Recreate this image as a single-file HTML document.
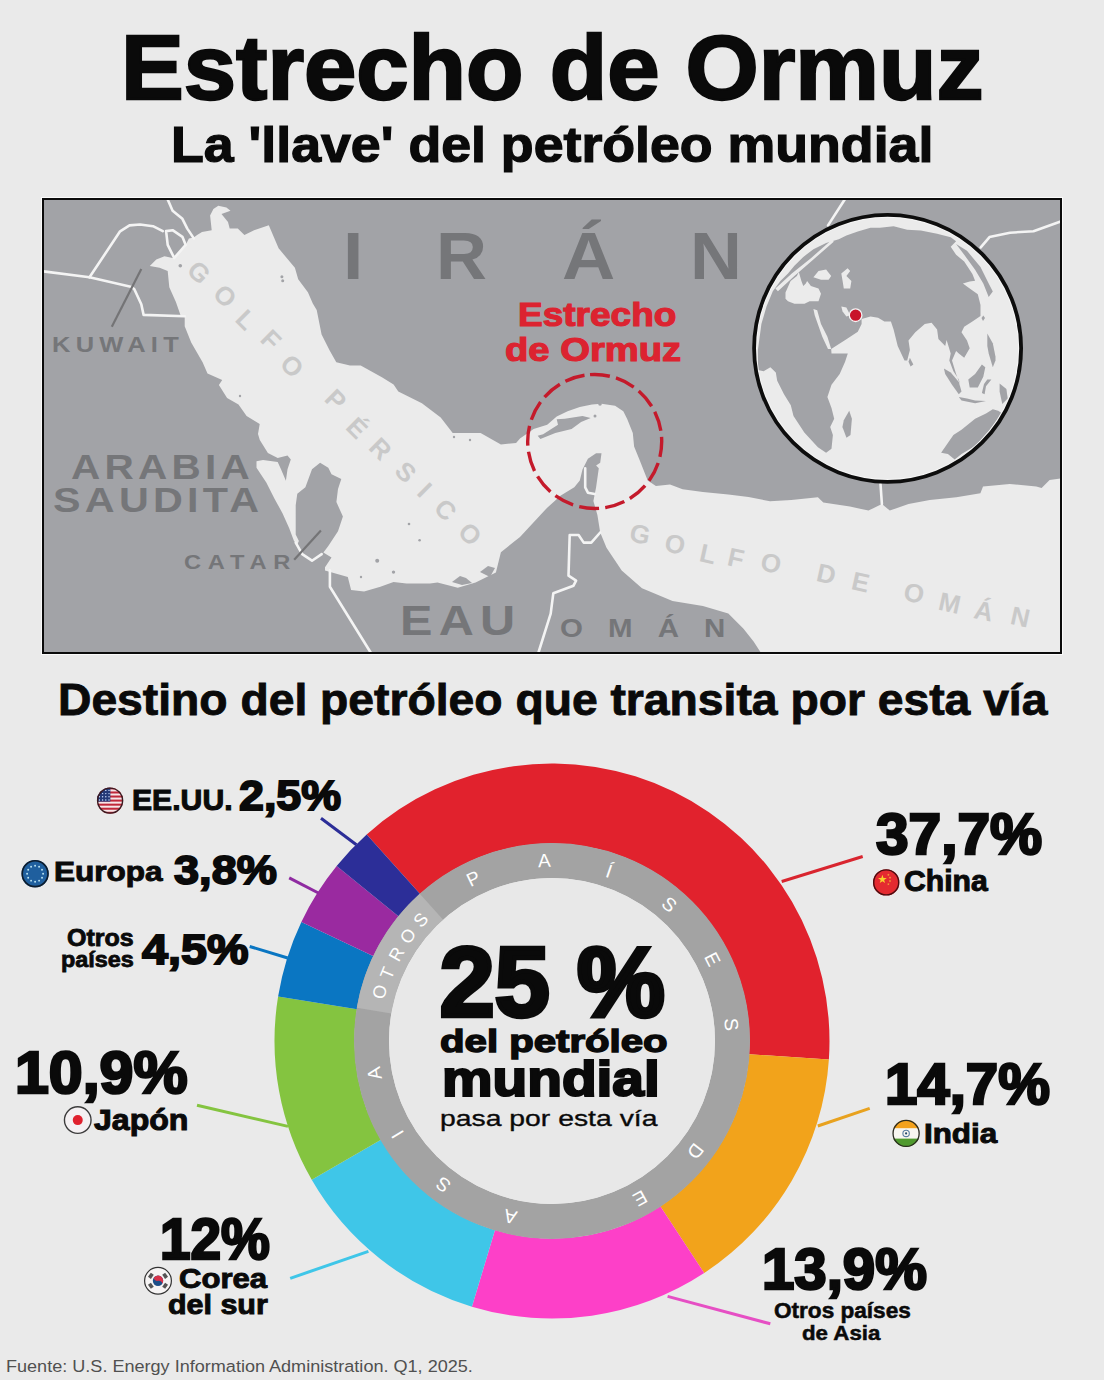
<!DOCTYPE html>
<html><head><meta charset="utf-8"><title>Estrecho de Ormuz</title>
<style>
html,body{margin:0;padding:0;}
body{width:1104px;height:1380px;position:relative;overflow:hidden;background:#eaeaea;font-family:"Liberation Sans",sans-serif;}
.t{position:absolute;white-space:pre;line-height:1;transform-origin:0 0;}
svg{position:absolute;left:0;top:0;}
</style></head><body>
<svg width='1104' height='1380' viewBox='0 0 1104 1380'><rect x='42' y='198' width='1020' height='456' fill='#a2a3a7'/><path d='M210.1,215.6 L213.4,209.0 L218.3,205.8 L226.4,207.4 L230.5,210.7 L221.5,213.9 L228.0,222.1 L229.7,228.6 L237.8,228.6 L244.4,235.1 L254.1,230.2 L268.8,225.3 L273.7,236.8 L278.6,248.2 L286.7,258.0 L294.9,267.7 L298.2,279.2 L307.9,292.2 L312.8,303.6 L316.7,310.0 L321.6,334.5 L329.8,350.8 L336.3,362.2 L350.0,365.4 L360.7,365.6 L381.9,377.3 L393.6,384.4 L398.3,391.5 L421.9,403.3 L440.7,417.4 L452.7,433.0 L480.6,433.0 L500.9,444.4 L516.1,443.1 L520.0,438.4 L533.6,428.9 L547.2,424.8 L556.7,416.6 L567.6,411.2 L579.8,407.1 L592.0,404.4 L601.5,403.7 L615.1,405.8 L623.3,411.2 L627.3,419.3 L632.8,432.9 L634.1,446.5 L639.6,460.1 L647.7,480.5 L655.9,485.9 L670.0,484.6 L682.6,489.3 L702.9,491.9 L728.3,494.4 L748.5,497.0 L770.0,501.3 L791.3,499.9 L817.9,497.3 L823.3,502.6 L849.9,506.6 L868.5,510.6 L881.9,503.9 L889.8,510.6 L908.5,503.9 L929.8,499.9 L956.4,497.3 L980.4,493.3 L983.0,486.6 L1009.7,483.9 L1036.3,486.6 L1041.6,487.9 L1049.6,480.0 L1064.0,478.0 L1064.0,656.0 L763.0,656.0 L753.6,641.5 L743.5,628.8 L728.3,613.6 L702.9,606.0 L672.5,600.9 L642.0,588.3 L621.7,570.5 L606.5,547.7 L600.2,532.5 L597.4,515.0 L593.4,500.9 L596.1,487.3 L598.8,468.3 L596.1,465.5 L600.2,462.8 L601.5,453.3 L596.1,453.3 L587.9,458.8 L582.5,469.6 L579.8,480.5 L574.3,487.3 L560.8,495.4 L547.2,507.7 L540.4,515.0 L520.0,537.0 L513.6,542.0 L500.9,552.2 L495.9,572.5 L475.6,582.6 L457.8,587.7 L437.5,582.6 L430.0,583.5 L406.5,583.5 L393.5,581.9 L380.4,586.7 L364.1,591.6 L351.1,590.0 L347.8,577.0 L336.4,573.7 L325.0,570.4 L325.0,567.2 L331.5,557.4 L323.4,552.5 L328.3,546.0 L338.0,531.3 L342.9,516.6 L336.4,502.0 L338.0,488.9 L341.3,479.1 L331.5,474.2 L328.3,467.7 L320.1,462.8 L312.0,469.3 L305.4,487.3 L297.3,493.8 L295.7,505.2 L295.7,534.6 L298.9,541.1 L297.3,544.4 L294.0,541.1 L289.1,528.0 L282.6,513.4 L274.5,498.7 L266.3,482.4 L256.5,467.7 L256.5,461.2 L263.0,460.0 L277.7,462.0 L281.0,469.3 L285.9,480.8 L287.5,469.3 L290.8,459.6 L287.5,455.5 L277.7,457.9 L267.9,453.0 L259.8,440.0 L258.0,433.9 L259.7,424.1 L246.6,416.0 L238.5,404.6 L227.1,398.0 L218.9,385.0 L222.2,380.1 L207.5,373.6 L202.6,362.2 L191.2,342.6 L184.7,326.3 L184.7,316.0 L180.8,316.0 L175.9,302.0 L169.3,287.3 L167.7,271.0 L159.6,267.7 L149.8,266.1 L156.3,259.6 L164.5,256.3 L172.6,258.0 L184.0,248.2 L188.9,238.4 L193.8,237.6 L197.1,235.1 L202.0,231.9 L211.7,230.2Z' fill='#ebebeb'/><path d='M537.7,435.7 L540.4,439.0 L555.3,432.9 L571.6,428.9 L581.1,422.1 L590.7,418.0 L582.5,416.0 L564.8,418.7 L556.7,419.3 L558.0,424.8 L543.1,434.3Z' fill='#a2a3a7'/><circle cx='180.3' cy='265.7' r='1.8' fill='#a2a3a7'/><circle cx='281.9' cy='276.7' r='1.5' fill='#a2a3a7'/><circle cx='282.7' cy='280.8' r='1.5' fill='#a2a3a7'/><circle cx='377.2' cy='560.7' r='2' fill='#a2a3a7'/><circle cx='393.5' cy='572.1' r='1.7' fill='#a2a3a7'/><circle cx='409' cy='524' r='1.3' fill='#a2a3a7'/><circle cx='419.6' cy='540.3' r='1.3' fill='#a2a3a7'/><circle cx='361' cy='577' r='1.2' fill='#a2a3a7'/><circle cx='595' cy='416' r='1.5' fill='#a2a3a7'/><circle cx='600' cy='404' r='1.8' fill='#a2a3a7'/><circle cx='240' cy='396' r='1.2' fill='#a2a3a7'/><circle cx='454' cy='437' r='1.2' fill='#a2a3a7'/><circle cx='470' cy='440' r='1.2' fill='#a2a3a7'/><path d='M452,582 L460,576 L466,578 L472,583 L462,585Z' fill='#a2a3a7'/><path d='M480,572 L488,566 L495,568 L490,577Z' fill='#a2a3a7'/><path d='M43.5,271.4 L89.5,277.3 L130.7,286.7 L134.2,289.0 L141.3,304.3 L143.6,314.9 L184.7,316.3' fill='none' stroke='#f4f4f4' stroke-width='2.6' stroke-linejoin='round' stroke-linecap='round'/><path d='M89.5,277.3 L120.1,231.3 L129.5,225.4 L140.0,224.5 L153.0,226.2 L162.8,231.1' fill='none' stroke='#f4f4f4' stroke-width='2.6' stroke-linejoin='round' stroke-linecap='round'/><path d='M167.7,199.5 L172.6,210.7 L182.4,218.8 L187.3,228.6 L193.8,238.4' fill='none' stroke='#f4f4f4' stroke-width='2.6' stroke-linejoin='round' stroke-linecap='round'/><path d='M166.1,231.1 L172.6,230.2 L182.4,236.8 L185.7,244.9 L174.2,258.0 L167.7,244.9 L166.1,231.1' fill='none' stroke='#f4f4f4' stroke-width='2.6' stroke-linejoin='round' stroke-linecap='round'/><path d='M295.7,542.7 L302.2,554.1 L312.0,560.7 L321.7,554.1' fill='none' stroke='#f4f4f4' stroke-width='2.6' stroke-linejoin='round' stroke-linecap='round'/><path d='M329.9,570.4 L329.9,586.7 L371.6,654.0' fill='none' stroke='#f4f4f4' stroke-width='2.6' stroke-linejoin='round' stroke-linecap='round'/><path d='M600.2,532.5 L591.3,542.6 L583.7,542.6 L578.6,535.0 L569.7,535.0 L568.5,575.6 L576.1,580.6 L573.5,585.7 L553.3,593.3 L550.7,613.6 L538.0,654.0' fill='none' stroke='#f4f4f4' stroke-width='2.6' stroke-linejoin='round' stroke-linecap='round'/><path d='M585.2,468.3 L585.2,487.3 L587.9,492.7 L594.7,494.1' fill='none' stroke='#f4f4f4' stroke-width='2.6' stroke-linejoin='round' stroke-linecap='round'/><path d='M880.5,484.0 L881.9,504.0' fill='none' stroke='#f4f4f4' stroke-width='2.6' stroke-linejoin='round' stroke-linecap='round'/><path d='M828.0,225.4 L845.7,198.0' fill='none' stroke='#f4f4f4' stroke-width='2.6' stroke-linejoin='round' stroke-linecap='round'/><path d='M980.7,247.4 L989.5,237.1 L1010.0,232.7 L1033.5,231.2 L1062.0,221.0' fill='none' stroke='#f4f4f4' stroke-width='2.6' stroke-linejoin='round' stroke-linecap='round'/><line x1='141.3' y1='269' x2='111.8' y2='326.7' stroke='#747476' stroke-width='2.2'/><line x1='294.2' y1='559.8' x2='320.9' y2='530.6' stroke='#747476' stroke-width='2.2'/><circle cx='594.7' cy='441.5' r='67' fill='none' stroke='#c41a2b' stroke-width='3.4' stroke-dasharray='20 6.31' transform='rotate(-94 594.7 441.5)'/><defs><clipPath id='gc'><circle cx='887.6' cy='348.3' r='133.5'/></clipPath></defs><circle cx='887.6' cy='348.3' r='133.5' fill='#ebebeb'/><g clip-path='url(#gc)'><path d='M758.0,370.0 L757.9,350.0 L761.4,324.1 L766.5,306.4 L772.8,291.2 L780.4,281.0 L788.0,273.4 L794.4,265.8 L803.3,256.9 L813.4,249.3 L826.1,243.0 L838.8,239.2 L846.4,235.4 L857.8,231.6 L870.5,227.8 L880.0,227.7 L893.6,226.3 L907.2,229.7 L920.8,230.4 L937.1,233.8 L950.7,237.2 L956.1,241.3 L950.7,246.7 L956.1,254.8 L964.2,261.6 L972.4,273.9 L975.1,280.7 L969.7,281.5 L962.9,283.4 L968.3,287.4 L977.8,294.2 L980.5,305.1 L980.5,316.0 L972.4,321.4 L964.2,326.8 L961.5,332.3 L967.0,340.4 L969.7,348.2 L964.2,357.7 L958.8,353.6 L956.1,350.9 L952.0,360.4 L956.1,374.0 L960.2,384.8 L958.8,379.4 L953.4,371.3 L949.3,360.4 L950.7,353.6 L946.6,340.0 L945.2,345.9 L938.4,339.1 L937.1,329.6 L931.6,322.8 L924.8,324.1 L915.3,332.3 L908.5,340.4 L909.9,350.0 L907.2,360.4 L904.5,360.4 L897.7,345.9 L893.6,329.6 L890.9,321.4 L884.4,321.6 L878.1,317.8 L870.5,316.5 L861.6,319.1 L861.6,324.1 L857.8,331.7 L846.4,339.3 L831.2,349.0 L831.5,353.6 L847.8,353.6 L845.1,361.7 L839.7,374.0 L831.5,384.8 L827.4,397.1 L831.5,407.9 L834.2,418.8 L830.2,427.0 L832.9,435.1 L831.5,448.7 L826.1,452.8 L817.9,447.3 L804.3,432.4 L793.5,416.1 L790.8,405.2 L784.0,394.3 L777.2,380.8 L775.8,372.6 L770.4,367.2 L763.6,371.3Z' fill='#a2a3a7'/><path d='M785.5,292.4 L790.6,281.0 L796.9,275.9 L798.8,272.1 L801.4,281.0 L803.3,286.1 L805.8,283.5 L807.1,281.0 L810.9,286.1 L818.5,288.6 L821.0,293.7 L818.5,301.3 L809.6,301.3 L804.5,303.8 L794.4,303.8 L788.0,301.3 L785.5,298.8Z' fill='#ebebeb'/><path d='M813.4,277.2 L818.5,270.9 L826.1,269.6 L831.2,275.9 L828.6,279.7 L821.0,279.7Z' fill='#ebebeb'/><path d='M841.3,273.4 L847.6,268.3 L850.2,270.9 L846.4,275.9 L851.4,281.0 L850.2,288.6 L843.8,288.6 L842.6,281.0Z' fill='#ebebeb'/><path d='M813.4,308.9 L817.2,310.2 L821.0,324.1 L827.4,336.8 L831.2,349.0 L828.0,349.0 L822.3,336.8 L814.7,315.3Z' fill='#ebebeb'/><path d='M841.3,306.4 L846.4,307.6 L850.2,315.3 L846.4,316.5 L842.6,311.4Z' fill='#ebebeb'/><path d='M775.4,288.6 L791.8,273.4 L810.9,258.2 L832.4,239.2 L833.7,241.7 L813.4,259.5 L794.4,275.9 L777.9,291.2Z' fill='#ebebeb'/><path d='M956.1,244.0 L967.0,250.8 L980.5,267.1 L988.7,283.4 L992.8,291.5 L988.7,297.0 L983.3,283.4 L975.1,269.8 L964.2,254.8Z' fill='#a2a3a7'/><path d='M849.2,410.7 L851.9,418.8 L850.5,435.1 L846.5,437.8 L842.4,427.0 L843.8,420.2Z' fill='#a2a3a7'/><path d='M909.9,357.7 L913.3,364.5 L910.6,366.5 L908.5,361.7Z' fill='#a2a3a7'/><path d='M943.9,368.5 L950.7,372.6 L958.8,382.1 L961.5,391.6 L958.8,394.3 L952.0,384.8 L945.2,374.0Z' fill='#a2a3a7'/><path d='M958.8,397.1 L967.0,398.4 L975.1,400.5 L986.0,401.1 L975.1,403.2 L961.5,400.5Z' fill='#a2a3a7'/><path d='M968.3,379.4 L975.1,374.0 L981.9,364.5 L985.3,367.2 L983.3,376.7 L977.8,387.6 L969.7,387.6Z' fill='#a2a3a7'/><path d='M987.3,379.4 L991.4,379.4 L986.0,386.2 L984.6,394.3 L981.9,393.0 L984.0,384.0Z' fill='#a2a3a7'/><path d='M987.3,333.6 L992.8,343.2 L995.5,356.7 L995.5,360.4 L992.8,367.2 L988.7,353.6 L987.3,345.9Z' fill='#a2a3a7'/><path d='M999.6,383.5 L1006.4,388.9 L1007.7,398.4 L1002.3,403.9 L999.6,391.6Z' fill='#a2a3a7'/><path d='M983.3,315.5 L985.0,318.0 L983.0,321.0 L981.5,318.0Z' fill='#a2a3a7'/><path d='M941.1,452.8 L953.4,435.1 L961.5,429.7 L975.1,418.8 L986.0,413.4 L992.8,409.3 L998.2,410.7 L1002.3,413.4 L999.6,416.1 L991.4,428.3 L975.1,446.0 L961.5,454.1 L954.7,459.6 L947.9,454.0Z' fill='#a2a3a7'/></g><circle cx='887.6' cy='348.3' r='131.2' fill='none' stroke='#f6f6f6' stroke-width='1.2'/><circle cx='887.6' cy='348.3' r='133.5' fill='none' stroke='#0d0d0d' stroke-width='3.8'/><circle cx='855.6' cy='315.2' r='6.3' fill='#c8142a' stroke='#f4f4f4' stroke-width='1.3'/><rect x='41.5' y='197.5' width='1021' height='457' fill='none' stroke='#fbfbfb' stroke-width='1'/><rect x='43' y='199' width='1018' height='454' fill='none' stroke='#0b0b0b' stroke-width='2'/></svg><div class='t' style='left:342.9px;top:223.4px;font-size:66.52px;font-weight:700;color:#757679;transform:scaleX(1.0989);'>I</div><div class='t' style='left:436.1px;top:223.4px;font-size:66.52px;font-weight:700;color:#757679;transform:scaleX(1.0606);'>R</div><div class='t' style='left:561.8px;top:223.4px;font-size:66.52px;font-weight:700;color:#757679;transform:scaleX(1.1084);'>Á</div><div class='t' style='left:689.6px;top:223.4px;font-size:66.52px;font-weight:700;color:#757679;transform:scaleX(1.0803);'>N</div><div class='t' style='left:52.4px;top:333.9px;font-size:22.17px;font-weight:700;color:#757679;letter-spacing:0.2056em;transform:scaleX(1.1507);'>KUWAIT</div><div class='t' style='left:70.8px;top:448.6px;font-size:35.22px;font-weight:700;color:#757679;letter-spacing:0.1051em;transform:scaleX(1.1501);'>ARABIA</div><div class='t' style='left:52.9px;top:481.5px;font-size:35.94px;font-weight:700;color:#757679;letter-spacing:0.1034em;transform:scaleX(1.1490);'>SAUDITA</div><div class='t' style='left:183.9px;top:552.2px;font-size:20.58px;font-weight:700;color:#757679;letter-spacing:0.2858em;transform:scaleX(1.1495);'>CATAR</div><div class='t' style='left:400.1px;top:600.1px;font-size:42.32px;font-weight:700;color:#757679;letter-spacing:0.1274em;transform:scaleX(1.1499);'>EAU</div><div class='t' style='left:559.7px;top:616.0px;font-size:25.65px;font-weight:700;color:#757679;letter-spacing:0.8522em;transform:scaleX(1.1493);'>OMÁN</div><div class='t' style='left:517.7px;top:297.3px;font-size:34.07px;font-weight:700;color:#dc2330;-webkit-text-stroke:0.035em #dc2330;transform:scaleX(1.0862);'>Estrecho</div><div class='t' style='left:504.5px;top:334.0px;font-size:32.50px;font-weight:700;color:#dc2330;-webkit-text-stroke:0.035em #dc2330;transform:scaleX(1.1756);'>de Ormuz</div><div class='t' style='left:189.2px;top:259.0px;font-size:26.0px;font-weight:700;color:#c9c9c9;transform-origin:9.8px 13.0px;transform:rotate(45.0deg)'>G</div><div class='t' style='left:214.9px;top:283.0px;font-size:26.0px;font-weight:700;color:#c9c9c9;transform-origin:10.1px 13.0px;transform:rotate(45.0deg)'>O</div><div class='t' style='left:237.6px;top:307.0px;font-size:26.0px;font-weight:700;color:#c9c9c9;transform-origin:8.4px 13.0px;transform:rotate(45.0deg)'>L</div><div class='t' style='left:263.1px;top:326.8px;font-size:26.0px;font-weight:700;color:#c9c9c9;transform-origin:8.3px 12.9px;transform:rotate(45.0deg)'>F</div><div class='t' style='left:282.4px;top:352.5px;font-size:26.0px;font-weight:700;color:#c9c9c9;transform-origin:10.1px 13.0px;transform:rotate(45.0deg)'>O</div><div class='t' style='left:326.7px;top:387.4px;font-size:26.0px;font-weight:700;color:#c9c9c9;transform-origin:9.1px 12.9px;transform:rotate(45.0deg)'>P</div><div class='t' style='left:349.8px;top:415.5px;font-size:26.0px;font-weight:700;color:#c9c9c9;transform-origin:9.0px 10.4px;transform:rotate(45.0deg)'>É</div><div class='t' style='left:370.6px;top:436.4px;font-size:26.0px;font-weight:700;color:#c9c9c9;transform-origin:9.9px 13.1px;transform:rotate(45.0deg)'>R</div><div class='t' style='left:396.6px;top:458.5px;font-size:26.0px;font-weight:700;color:#c9c9c9;transform-origin:8.6px 13.0px;transform:rotate(45.0deg)'>S</div><div class='t' style='left:421.1px;top:477.0px;font-size:26.0px;font-weight:700;color:#c9c9c9;transform-origin:3.6px 13.0px;transform:rotate(45.0deg)'>I</div><div class='t' style='left:435.6px;top:497.3px;font-size:26.0px;font-weight:700;color:#c9c9c9;transform-origin:9.6px 13.0px;transform:rotate(45.0deg)'>C</div><div class='t' style='left:459.7px;top:521.4px;font-size:26.0px;font-weight:700;color:#c9c9c9;transform-origin:10.1px 13.0px;transform:rotate(45.0deg)'>O</div><div class='t' style='left:629.7px;top:520.7px;font-size:26.0px;font-weight:700;color:#c9c9c9;transform-origin:9.8px 13.0px;transform:rotate(12.3deg)'>G</div><div class='t' style='left:664.9px;top:530.9px;font-size:26.0px;font-weight:700;color:#c9c9c9;transform-origin:10.1px 13.0px;transform:rotate(12.3deg)'>O</div><div class='t' style='left:699.6px;top:541.0px;font-size:26.0px;font-weight:700;color:#c9c9c9;transform-origin:8.4px 13.0px;transform:rotate(12.3deg)'>L</div><div class='t' style='left:727.7px;top:544.9px;font-size:26.0px;font-weight:700;color:#c9c9c9;transform-origin:8.3px 12.9px;transform:rotate(12.3deg)'>F</div><div class='t' style='left:760.5px;top:550.0px;font-size:26.0px;font-weight:700;color:#c9c9c9;transform-origin:10.1px 13.0px;transform:rotate(12.3deg)'>O</div><div class='t' style='left:816.9px;top:560.8px;font-size:26.0px;font-weight:700;color:#c9c9c9;transform-origin:9.7px 13.0px;transform:rotate(12.3deg)'>D</div><div class='t' style='left:851.6px;top:569.4px;font-size:26.0px;font-weight:700;color:#c9c9c9;transform-origin:9.0px 13.0px;transform:rotate(12.3deg)'>E</div><div class='t' style='left:903.7px;top:580.1px;font-size:26.0px;font-weight:700;color:#c9c9c9;transform-origin:10.1px 13.0px;transform:rotate(12.3deg)'>O</div><div class='t' style='left:939.0px;top:590.1px;font-size:26.0px;font-weight:700;color:#c9c9c9;transform-origin:10.8px 13.0px;transform:rotate(12.3deg)'>M</div><div class='t' style='left:975.0px;top:598.0px;font-size:26.0px;font-weight:700;color:#c9c9c9;transform-origin:9.4px 10.5px;transform:rotate(12.3deg)'>Á</div><div class='t' style='left:1011.0px;top:604.0px;font-size:26.0px;font-weight:700;color:#c9c9c9;transform-origin:9.4px 13.0px;transform:rotate(12.3deg)'>N</div><svg width='1104' height='1380' viewBox='0 0 1104 1380'><path d='M366.68,834.45 A277.5,277.5 0 0 1 828.88,1059.49 L749.06,1054.16 A197.5,197.5 0 0 0 420.10,894.00Z' fill='#e1222d'/><path d='M828.88,1059.49 A277.5,277.5 0 0 1 704.19,1273.04 L660.32,1206.15 A197.5,197.5 0 0 0 749.06,1054.16Z' fill='#f2a31b'/><path d='M704.19,1273.04 A277.5,277.5 0 0 1 471.89,1306.68 L494.98,1230.09 A197.5,197.5 0 0 0 660.32,1206.15Z' fill='#fd40c8'/><path d='M471.89,1306.68 A277.5,277.5 0 0 1 311.73,1179.83 L380.99,1139.81 A197.5,197.5 0 0 0 494.98,1230.09Z' fill='#3fc6e8'/><path d='M311.73,1179.83 A277.5,277.5 0 0 1 278.09,996.54 L357.05,1009.36 A197.5,197.5 0 0 0 380.99,1139.81Z' fill='#84c440'/><path d='M278.09,996.54 A277.5,277.5 0 0 1 301.37,921.88 L373.62,956.22 A197.5,197.5 0 0 0 357.05,1009.36Z' fill='#0a76c2'/><path d='M301.37,921.88 A277.5,277.5 0 0 1 336.65,865.99 L398.73,916.44 A197.5,197.5 0 0 0 373.62,956.22Z' fill='#9a2aa0'/><path d='M336.65,865.99 A277.5,277.5 0 0 1 366.68,834.45 L420.10,894.00 A197.5,197.5 0 0 0 398.73,916.44Z' fill='#2c2e98'/><circle cx='552.0' cy='1041.0' r='180.5' fill='none' stroke='#a3a3a3' stroke-width='35.0'/><path d='M356.83,1007.64 A198.0,198.0 0 0 1 419.77,893.63 L443.14,919.68 A163.0,163.0 0 0 0 391.33,1013.54Z' fill='#b5b5b5'/><circle cx='552.0' cy='1041.0' r='163.0' fill='#e8e8e8'/><line x1='321' y1='818.2' x2='356.4' y2='844.8' stroke='#2c2e98' stroke-width='3'/><line x1='289.2' y1='877.8' x2='318.4' y2='893' stroke='#8f2ba1' stroke-width='3'/><line x1='249.7' y1='946.5' x2='287.7' y2='958' stroke='#0a76c2' stroke-width='3'/><line x1='197' y1='1105.2' x2='288' y2='1126.4' stroke='#84c440' stroke-width='3'/><line x1='290.2' y1='1278.3' x2='368.4' y2='1251.4' stroke='#3fc6e8' stroke-width='3'/><line x1='781.7' y1='881.5' x2='862.7' y2='856.5' stroke='#d9252f' stroke-width='3'/><line x1='817.8' y1='1126' x2='869.7' y2='1108.3' stroke='#e8a21f' stroke-width='3'/><line x1='667.6' y1='1296.4' x2='770.3' y2='1323.8' stroke='#e64fc4' stroke-width='3'/></svg><div class='t' style='left:466.8px;top:869.0px;font-size:19.0px;font-weight:400;color:#ffffff;transform-origin:6.6px 9.5px;transform:rotate(-25.8deg)'>P</div><div class='t' style='left:538.1px;top:851.1px;font-size:19.0px;font-weight:400;color:#ffffff;transform-origin:6.4px 9.5px;transform:rotate(-2.4deg)'>A</div><div class='t' style='left:607.2px;top:862.4px;font-size:19.0px;font-weight:400;color:#ffffff;transform-origin:3.3px 7.8px;transform:rotate(18.9deg)'>Í</div><div class='t' style='left:663.1px;top:894.5px;font-size:19.0px;font-weight:400;color:#ffffff;transform-origin:6.3px 9.5px;transform:rotate(40.6deg)'>S</div><div class='t' style='left:706.3px;top:949.8px;font-size:19.0px;font-weight:400;color:#ffffff;transform-origin:6.7px 9.5px;transform:rotate(63.1deg)'>E</div><div class='t' style='left:725.4px;top:1015.1px;font-size:19.0px;font-weight:400;color:#ffffff;transform-origin:6.3px 9.5px;transform:rotate(84.8deg)'>S</div><div class='t' style='left:687.5px;top:1142.1px;font-size:19.0px;font-weight:400;color:#ffffff;transform-origin:7.2px 9.5px;transform:rotate(127.8deg)'>D</div><div class='t' style='left:632.8px;top:1189.4px;font-size:19.0px;font-weight:400;color:#ffffff;transform-origin:6.7px 9.5px;transform:rotate(151.0deg)'>E</div><div class='t' style='left:504.1px;top:1207.1px;font-size:19.0px;font-weight:400;color:#ffffff;transform-origin:6.4px 9.5px;transform:rotate(193.3deg)'>A</div><div class='t' style='left:436.6px;top:1175.3px;font-size:19.0px;font-weight:400;color:#ffffff;transform-origin:6.3px 9.5px;transform:rotate(217.2deg)'>S</div><div class='t' style='left:395.2px;top:1125.3px;font-size:19.0px;font-weight:400;color:#ffffff;transform-origin:2.6px 9.5px;transform:rotate(238.7deg)'>I</div><div class='t' style='left:368.2px;top:1064.3px;font-size:19.0px;font-weight:400;color:#ffffff;transform-origin:6.4px 9.5px;transform:rotate(259.5deg)'>A</div><div class='t' style='left:373.3px;top:983.4px;font-size:18.0px;font-weight:400;color:#ffffff;transform-origin:7.0px 9.0px;transform:rotate(285.8deg)'>O</div><div class='t' style='left:381.6px;top:963.6px;font-size:18.0px;font-weight:400;color:#ffffff;transform-origin:5.5px 9.0px;transform:rotate(292.5deg)'>T</div><div class='t' style='left:389.5px;top:944.8px;font-size:18.0px;font-weight:400;color:#ffffff;transform-origin:6.8px 9.0px;transform:rotate(299.2deg)'>R</div><div class='t' style='left:400.5px;top:927.2px;font-size:18.0px;font-weight:400;color:#ffffff;transform-origin:7.0px 9.0px;transform:rotate(306.0deg)'>O</div><div class='t' style='left:414.8px;top:911.0px;font-size:18.0px;font-weight:400;color:#ffffff;transform-origin:6.0px 9.0px;transform:rotate(312.7deg)'>S</div><svg width='1104' height='1380' viewBox='0 0 1104 1380'><clipPath id='fus'><circle cx='110.1' cy='800.6' r='13.2'/></clipPath><g clip-path='url(#fus)'><rect x='96.89999999999999' y='787.4' width='26.4' height='26.4' fill='#f6e6e8'/><rect x='96.89999999999999' y='787.40' width='26.4' height='2.03' fill='#c0283a'/><rect x='96.89999999999999' y='791.46' width='26.4' height='2.03' fill='#c0283a'/><rect x='96.89999999999999' y='795.52' width='26.4' height='2.03' fill='#c0283a'/><rect x='96.89999999999999' y='799.58' width='26.4' height='2.03' fill='#c0283a'/><rect x='96.89999999999999' y='803.65' width='26.4' height='2.03' fill='#c0283a'/><rect x='96.89999999999999' y='807.71' width='26.4' height='2.03' fill='#c0283a'/><rect x='96.89999999999999' y='811.77' width='26.4' height='2.03' fill='#c0283a'/><rect x='96.89999999999999' y='787.4' width='13.46' height='14.22' fill='#243a78'/><circle cx='99.4' cy='790.4' r='0.7' fill='#cfe0ff'/><circle cx='102.6' cy='790.4' r='0.7' fill='#cfe0ff'/><circle cx='105.8' cy='790.4' r='0.7' fill='#cfe0ff'/><circle cx='109.0' cy='790.4' r='0.7' fill='#cfe0ff'/><circle cx='99.4' cy='793.6' r='0.7' fill='#cfe0ff'/><circle cx='102.6' cy='793.6' r='0.7' fill='#cfe0ff'/><circle cx='105.8' cy='793.6' r='0.7' fill='#cfe0ff'/><circle cx='109.0' cy='793.6' r='0.7' fill='#cfe0ff'/><circle cx='99.4' cy='796.8' r='0.7' fill='#cfe0ff'/><circle cx='102.6' cy='796.8' r='0.7' fill='#cfe0ff'/><circle cx='105.8' cy='796.8' r='0.7' fill='#cfe0ff'/><circle cx='109.0' cy='796.8' r='0.7' fill='#cfe0ff'/><circle cx='99.4' cy='800.0' r='0.7' fill='#cfe0ff'/><circle cx='102.6' cy='800.0' r='0.7' fill='#cfe0ff'/><circle cx='105.8' cy='800.0' r='0.7' fill='#cfe0ff'/><circle cx='109.0' cy='800.0' r='0.7' fill='#cfe0ff'/></g><circle cx='110.1' cy='800.6' r='12.5' fill='none' stroke='#3a1a20' stroke-width='1.4'/><clipPath id='feu'><circle cx='35.1' cy='873.7' r='13.7'/></clipPath><g clip-path='url(#feu)'><rect x='21.400000000000002' y='860.0' width='27.4' height='27.4' fill='#1f5f9e'/><circle cx='35.10' cy='865.70' r='0.95' fill='#b9e3f2'/><circle cx='39.10' cy='866.77' r='0.95' fill='#b9e3f2'/><circle cx='42.03' cy='869.70' r='0.95' fill='#b9e3f2'/><circle cx='43.10' cy='873.70' r='0.95' fill='#b9e3f2'/><circle cx='42.03' cy='877.70' r='0.95' fill='#b9e3f2'/><circle cx='39.10' cy='880.63' r='0.95' fill='#b9e3f2'/><circle cx='35.10' cy='881.70' r='0.95' fill='#b9e3f2'/><circle cx='31.10' cy='880.63' r='0.95' fill='#b9e3f2'/><circle cx='28.17' cy='877.70' r='0.95' fill='#b9e3f2'/><circle cx='27.10' cy='873.70' r='0.95' fill='#b9e3f2'/><circle cx='28.17' cy='869.70' r='0.95' fill='#b9e3f2'/><circle cx='31.10' cy='866.77' r='0.95' fill='#b9e3f2'/></g><circle cx='35.1' cy='873.7' r='12.899999999999999' fill='none' stroke='#0d1c2c' stroke-width='1.6'/><clipPath id='fjp'><circle cx='77.75' cy='1120.1' r='14'/></clipPath><g clip-path='url(#fjp)'><rect x='63.75' y='1106.1' width='28' height='28' fill='#f4f0f2'/><circle cx='77.75' cy='1120.1' r='5' fill='#e0202e'/></g><circle cx='77.75' cy='1120.1' r='13.3' fill='none' stroke='#3c3c3c' stroke-width='1.4'/><clipPath id='fkr'><circle cx='158' cy='1280.8' r='14'/></clipPath><g clip-path='url(#fkr)'><rect x='144' y='1266.8' width='28' height='28' fill='#f6f4f4'/><circle cx='158' cy='1280.8' r='5.2' fill='#1d4e88'/><path d='M152.8,1280.8 A5.2,5.2 0 0 1 163.2,1280.8 A3.4,3.4 0 0 0 158,1280.8 A3.4,3.4 0 0 1 152.8,1280.8Z' fill='#d9324a' transform='rotate(35 158 1280.8)'/><rect x='155.5' y='1270.3' width='5' height='3.6' fill='#555' transform='rotate(-55 158 1280.8)'/><rect x='155.5' y='1270.3' width='5' height='3.6' fill='#555' transform='rotate(55 158 1280.8)'/><rect x='155.5' y='1270.3' width='5' height='3.6' fill='#555' transform='rotate(125 158 1280.8)'/><rect x='155.5' y='1270.3' width='5' height='3.6' fill='#555' transform='rotate(-125 158 1280.8)'/></g><circle cx='158' cy='1280.8' r='13.4' fill='none' stroke='#333' stroke-width='1.2'/><clipPath id='fcn'><circle cx='886.2' cy='882.4' r='13.2'/></clipPath><g clip-path='url(#fcn)'><rect x='873.0' y='869.1999999999999' width='26.4' height='26.4' fill='#e42a30'/><path d='M882.4,874.8 L883.5,877.9 L886.8,878.0 L884.1,880.0 L885.1,883.1 L882.4,881.2 L879.7,883.1 L880.7,880.0 L878.0,878.0 L881.3,877.9Z' fill='#f8d02c'/><path d='M888.4,873.4 L888.7,874.3 L889.7,874.4 L888.9,875.0 L889.2,875.9 L888.4,875.4 L887.6,875.9 L887.9,875.0 L887.1,874.4 L888.1,874.3Z' fill='#f2a23a'/><path d='M890.0,876.2 L890.3,877.1 L891.3,877.2 L890.5,877.8 L890.8,878.7 L890.0,878.2 L889.2,878.7 L889.5,877.8 L888.7,877.2 L889.7,877.1Z' fill='#f2a23a'/><path d='M890.0,879.7 L890.3,880.6 L891.3,880.7 L890.5,881.3 L890.8,882.2 L890.0,881.7 L889.2,882.2 L889.5,881.3 L888.7,880.7 L889.7,880.6Z' fill='#f2a23a'/><path d='M888.4,882.8 L888.7,883.7 L889.7,883.8 L888.9,884.4 L889.2,885.3 L888.4,884.8 L887.6,885.3 L887.9,884.4 L887.1,883.8 L888.1,883.7Z' fill='#f2a23a'/></g><circle cx='886.2' cy='882.4' r='12.5' fill='none' stroke='#4a0d10' stroke-width='1.4'/><clipPath id='fin'><circle cx='906.1' cy='1133.4' r='13.7'/></clipPath><g clip-path='url(#fin)'><rect x='892.4' y='1119.7' width='27.4' height='27.4' fill='#f8f6f0'/><rect x='892.4' y='1119.7' width='27.4' height='8.49' fill='#f4a21c'/><rect x='892.4' y='1138.61' width='27.4' height='9.59' fill='#4f9a2e'/><circle cx='906.1' cy='1133.4' r='3.2' fill='none' stroke='#5a7da0' stroke-width='1.1'/><circle cx='906.1' cy='1133.4' r='1.1' fill='#234a6a'/></g><circle cx='906.1' cy='1133.4' r='13.049999999999999' fill='none' stroke='#2a2a20' stroke-width='1.3'/></svg><div class='t' style='left:121.1px;top:21.5px;font-size:91.33px;font-weight:700;color:#0a0a0a;-webkit-text-stroke:0.025em #0a0a0a;transform:scaleX(1.0300);'>Estrecho de Ormuz</div><div class='t' style='left:171.3px;top:120.7px;font-size:49.73px;font-weight:700;color:#0a0a0a;-webkit-text-stroke:0.025em #0a0a0a;transform:scaleX(1.0797);'>La &#39;llave&#39; del petróleo mundial</div><div class='t' style='left:58.3px;top:678.0px;font-size:44.65px;font-weight:700;color:#0a0a0a;-webkit-text-stroke:0.020em #0a0a0a;transform:scaleX(1.0360);'>Destino del petróleo que transita por esta vía</div><div class='t' style='left:131.8px;top:784.9px;font-size:29.79px;font-weight:700;color:#0a0a0a;-webkit-text-stroke:0.035em #0a0a0a;transform:scaleX(1.0127);'>EE.UU.</div><div class='t' style='left:239.4px;top:774.4px;font-size:43.13px;font-weight:700;color:#0a0a0a;-webkit-text-stroke:0.045em #0a0a0a;transform:scaleX(1.0380);'>2,5%</div><div class='t' style='left:54.0px;top:857.8px;font-size:27.86px;font-weight:700;color:#0a0a0a;-webkit-text-stroke:0.035em #0a0a0a;transform:scaleX(1.1313);'>Europa</div><div class='t' style='left:173.8px;top:849.5px;font-size:41.36px;font-weight:700;color:#0a0a0a;-webkit-text-stroke:0.045em #0a0a0a;transform:scaleX(1.0914);'>3,8%</div><div class='t' style='left:67.4px;top:926.6px;font-size:23.03px;font-weight:700;color:#0a0a0a;-webkit-text-stroke:0.035em #0a0a0a;transform:scaleX(1.0870);'>Otros</div><div class='t' style='left:60.8px;top:948.5px;font-size:21.77px;font-weight:700;color:#0a0a0a;-webkit-text-stroke:0.035em #0a0a0a;transform:scaleX(1.0756);'>países</div><div class='t' style='left:142.1px;top:928.1px;font-size:43.13px;font-weight:700;color:#0a0a0a;-webkit-text-stroke:0.045em #0a0a0a;transform:scaleX(1.0830);'>4,5%</div><div class='t' style='left:15.3px;top:1043.7px;font-size:58.37px;font-weight:700;color:#0a0a0a;-webkit-text-stroke:0.045em #0a0a0a;transform:scaleX(1.0427);'>10,9%</div><div class='t' style='left:94.0px;top:1105.2px;font-size:29.93px;font-weight:700;color:#0a0a0a;-webkit-text-stroke:0.035em #0a0a0a;transform:scaleX(1.0719);'>Japón</div><div class='t' style='left:159.6px;top:1210.7px;font-size:57.55px;font-weight:700;color:#0a0a0a;-webkit-text-stroke:0.045em #0a0a0a;transform:scaleX(0.9539);'>12%</div><div class='t' style='left:179.3px;top:1266.0px;font-size:27.03px;font-weight:700;color:#0a0a0a;-webkit-text-stroke:0.035em #0a0a0a;transform:scaleX(1.1495);'>Corea</div><div class='t' style='left:168.3px;top:1291.4px;font-size:27.37px;font-weight:700;color:#0a0a0a;-webkit-text-stroke:0.035em #0a0a0a;transform:scaleX(1.1124);'>del sur</div><div class='t' style='left:875.5px;top:805.3px;font-size:58.10px;font-weight:700;color:#0a0a0a;-webkit-text-stroke:0.045em #0a0a0a;transform:scaleX(1.0085);'>37,7%</div><div class='t' style='left:903.6px;top:867.4px;font-size:28.83px;font-weight:700;color:#0a0a0a;-webkit-text-stroke:0.035em #0a0a0a;transform:scaleX(1.0450);'>China</div><div class='t' style='left:885.2px;top:1056.5px;font-size:56.87px;font-weight:700;color:#0a0a0a;-webkit-text-stroke:0.045em #0a0a0a;transform:scaleX(1.0229);'>14,7%</div><div class='t' style='left:923.9px;top:1119.7px;font-size:28.00px;font-weight:700;color:#0a0a0a;-webkit-text-stroke:0.035em #0a0a0a;transform:scaleX(1.1202);'>India</div><div class='t' style='left:761.7px;top:1241.4px;font-size:57.01px;font-weight:700;color:#0a0a0a;-webkit-text-stroke:0.045em #0a0a0a;transform:scaleX(1.0204);'>13,9%</div><div class='t' style='left:773.8px;top:1301.4px;font-size:21.26px;font-weight:700;color:#0a0a0a;-webkit-text-stroke:0.025em #0a0a0a;transform:scaleX(1.0623);'>Otros países</div><div class='t' style='left:802.1px;top:1324.1px;font-size:19.30px;font-weight:700;color:#0a0a0a;-webkit-text-stroke:0.025em #0a0a0a;transform:scaleX(1.1543);'>de Asia</div><div class='t' style='left:439.8px;top:932.8px;font-size:98.78px;font-weight:700;color:#0a0a0a;-webkit-text-stroke:0.045em #0a0a0a;'>25 %</div><div class='t' style='left:440.0px;top:1025.9px;font-size:31.82px;font-weight:700;color:#0a0a0a;-webkit-text-stroke:0.045em #0a0a0a;transform:scaleX(1.2627);'>del petróleo</div><div class='t' style='left:442.2px;top:1053.6px;font-size:49.22px;font-weight:700;color:#0a0a0a;-webkit-text-stroke:0.045em #0a0a0a;transform:scaleX(1.1539);'>mundial</div><div class='t' style='left:439.9px;top:1107.7px;font-size:22.57px;font-weight:400;color:#0a0a0a;-webkit-text-stroke:0.015em #0a0a0a;transform:scaleX(1.2563);'>pasa por esta vía</div><div class='t' style='left:6.2px;top:1359.0px;font-size:16.52px;font-weight:400;color:#505050;transform:scaleX(1.0936);'>Fuente: U.S. Energy Information Administration. Q1, 2025.</div></body></html>
